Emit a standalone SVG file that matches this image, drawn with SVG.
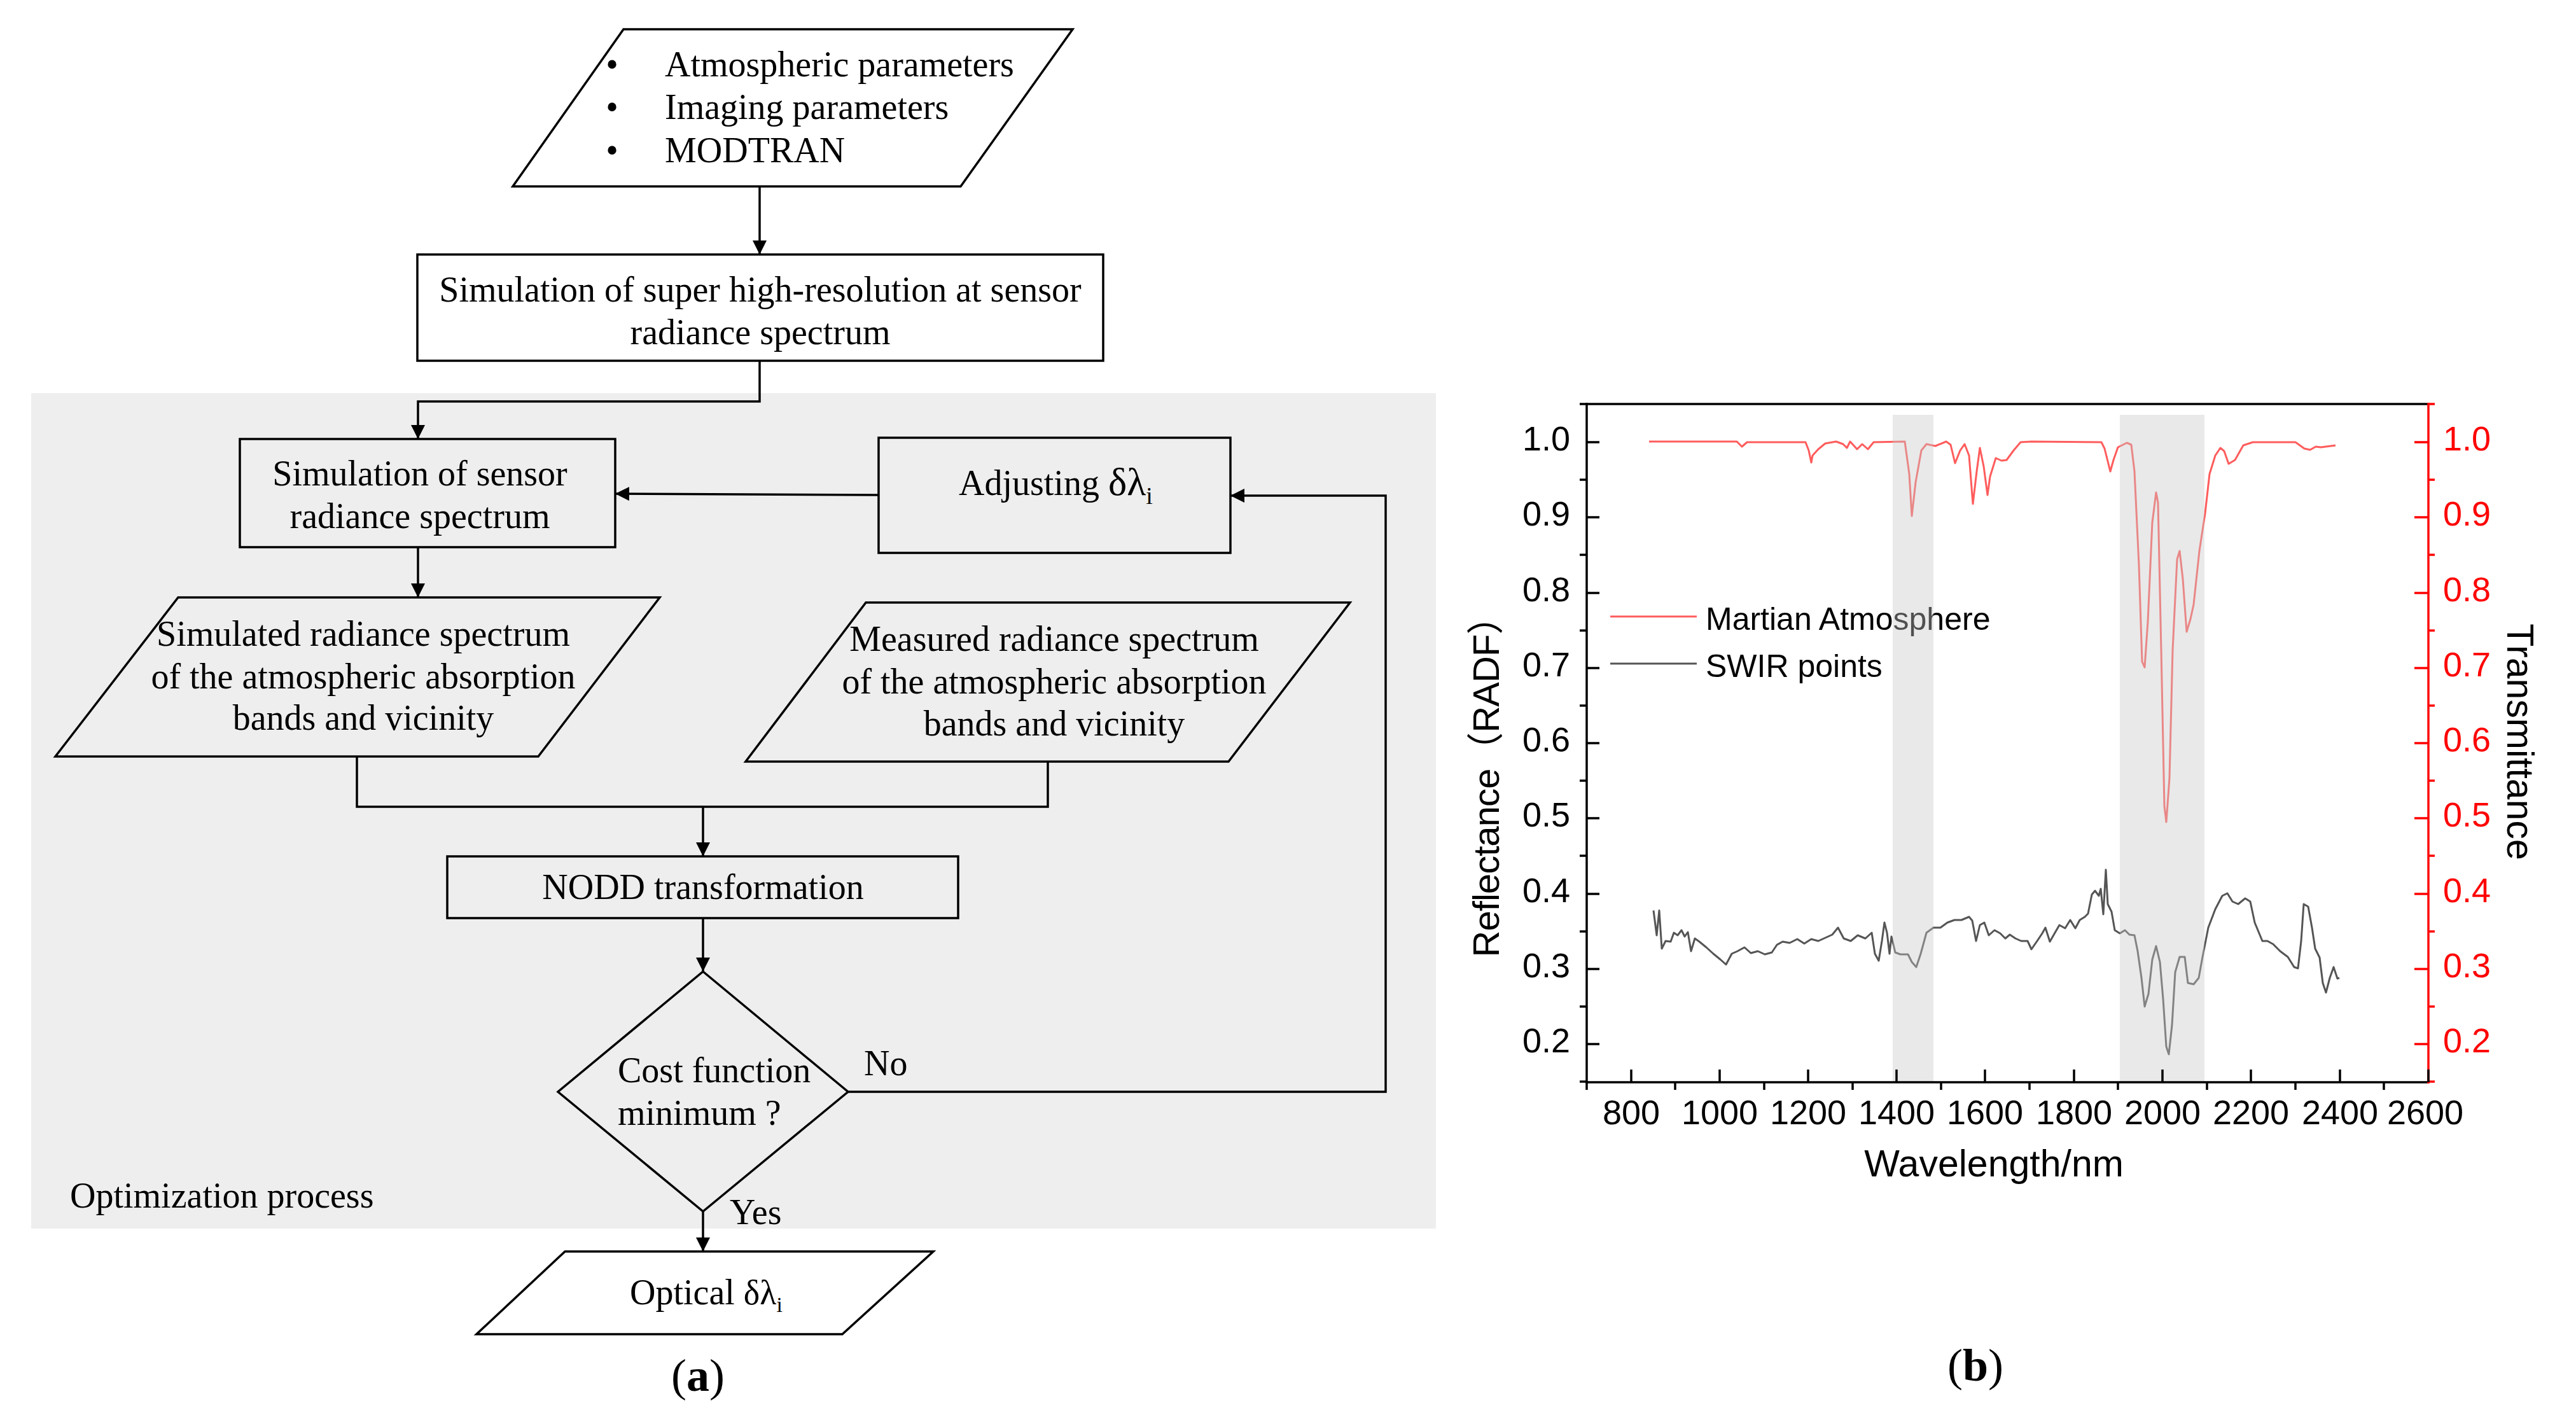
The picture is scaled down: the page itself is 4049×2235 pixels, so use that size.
<svg xmlns="http://www.w3.org/2000/svg" width="4049" height="2235" viewBox="0 0 4049 2235">
<style>
.fc{font-family:"Liberation Serif","Times New Roman",serif;font-size:56px;fill:#000}
.mid{text-anchor:middle}
.shape{fill:none;stroke:#000;stroke-width:3.5;stroke-linejoin:miter}
.con{fill:none;stroke:#000;stroke-width:3.5}
.ax{font-family:"Liberation Sans",Arial,sans-serif;font-size:54px;fill:#000}
.axr{font-family:"Liberation Sans",Arial,sans-serif;font-size:54px;fill:#ff0000}
.tk{stroke:#000;stroke-width:3.5}
.tkr{stroke:#ff0000;stroke-width:3.5}
.lg{font-size:50px}
.big{font-size:72px}
</style>
<defs>
<marker id="arr" markerUnits="userSpaceOnUse" markerWidth="24" markerHeight="24" refX="22" refY="11" orient="auto">
<path d="M0,0 L22,11 L0,22 z" fill="#000"/>
</marker>
</defs>
<rect width="4049" height="2235" fill="#fff"/>

<!-- Optimization process background -->
<g id="optimization-process">
<rect x="49" y="618" width="2208" height="1313" fill="#eeeeee"/>
<text class="fc" x="110" y="1898">Optimization process</text>
</g>

<!-- connectors -->
<g id="connectors">
<line class="con" x1="1194" y1="293" x2="1194" y2="400" marker-end="url(#arr)"/>
<polyline class="con" points="1194,567 1194,631 657,631 657,690" marker-end="url(#arr)"/>
<line class="con" x1="1381" y1="778" x2="967" y2="776" marker-end="url(#arr)"/>
<line class="con" x1="657" y1="860" x2="657" y2="939" marker-end="url(#arr)"/>
<polyline class="con" points="561,1189 561,1268 1647,1268 1647,1197"/>
<line class="con" x1="1105" y1="1268" x2="1105" y2="1346" marker-end="url(#arr)"/>
<line class="con" x1="1105" y1="1443" x2="1105" y2="1527" marker-end="url(#arr)"/>
<polyline class="con" points="1333,1716 2178,1716 2178,779 1934,779" marker-end="url(#arr)"/>
<line class="con" x1="1105" y1="1904" x2="1105" y2="1967" marker-end="url(#arr)"/>
<text class="fc" x="1358" y="1690">No</text>
<text class="fc" x="1147" y="1924">Yes</text>
</g>

<g id="inputs">
<polygon class="shape" points="980,46 1686,46 1510,293 806,293"/>
<text class="fc mid" x="962" y="120">•</text>
<text class="fc mid" x="962" y="187">•</text>
<text class="fc mid" x="962" y="255">•</text>
<text class="fc" x="1045" y="120">Atmospheric parameters</text>
<text class="fc" x="1045" y="187">Imaging parameters</text>
<text class="fc" x="1045" y="255">MODTRAN</text>
</g>

<g id="super-high-res">
<rect class="shape" x="656" y="400" width="1078" height="167"/>
<text class="fc mid" x="1195" y="474">Simulation of super high-resolution at sensor</text>
<text class="fc mid" x="1195" y="541">radiance spectrum</text>
</g>

<g id="sensor-sim">
<rect class="shape" x="377" y="690" width="590" height="170"/>
<text class="fc mid" x="660" y="763">Simulation of sensor</text>
<text class="fc mid" x="660" y="830">radiance spectrum</text>
</g>

<g id="adjusting">
<rect class="shape" x="1381" y="688" width="553" height="181"/>
<text class="fc" x="1507" y="778">Adjusting <tspan style="font-size:62px">δλ</tspan><tspan style="font-size:38px" dy="14">i</tspan></text>
</g>

<g id="simulated">
<polygon class="shape" points="280,939 1037,939 846,1189 87,1189"/>
<text class="fc mid" x="571" y="1015">Simulated radiance spectrum</text>
<text class="fc mid" x="571" y="1082">of the atmospheric absorption</text>
<text class="fc mid" x="571" y="1147">bands and vicinity</text>
</g>

<g id="measured">
<polygon class="shape" points="1361,947 2122,947 1931,1197 1172,1197"/>
<text class="fc mid" x="1657" y="1023">Measured radiance spectrum</text>
<text class="fc mid" x="1657" y="1090">of the atmospheric absorption</text>
<text class="fc mid" x="1657" y="1156">bands and vicinity</text>
</g>

<g id="nodd">
<rect class="shape" x="703" y="1346" width="803" height="97"/>
<text class="fc mid" x="1105" y="1413">NODD transformation</text>
</g>

<g id="decision">
<polygon class="shape" points="1105,1527 1333,1716 1105,1904 877,1716"/>
<text class="fc" x="971" y="1701">Cost function</text>
<text class="fc" x="971" y="1768">minimum ?</text>
</g>

<g id="optical">
<polygon class="shape" points="888,1967 1467,1967 1324,2097 749,2097"/>
<text class="fc" x="990" y="2050">Optical <tspan style="font-size:54px">δλ</tspan><tspan style="font-size:34px" dy="12">i</tspan></text>
</g>

<text class="fc mid big" x="1097" y="2186">(<tspan font-weight="bold">a</tspan>)</text>

<!-- Chart (b) -->
<g id="chart">
<polyline fill="none" stroke="#ff5c5c" stroke-width="3" stroke-linejoin="round" points="2592,694 2730,694 2738,702 2746,695 2838,695 2843,708 2847,727 2849,716 2858,706 2869,697 2886,694 2897,698 2903,704 2908,694 2919,706 2927,698 2936,706 2945,695 2994,694 3001,745 3005,811 3011,758 3020,708 3028,698 3042,701 3059,694 3066,699 3073,728 3081,708 3088,698 3095,716 3101,792 3107,741 3112,704 3118,733 3124,778 3128,749 3137,720 3146,724 3154,723 3165,708 3176,695 3193,694 3303,695 3308,705 3317,741 3322,723 3329,703 3343,696 3350,699 3355,741 3362,888 3367,1040 3371,1049 3376,977 3383,821 3389,774 3392,790 3397,1022 3402,1267 3405,1292 3410,1223 3415,1022 3422,879 3426,866 3431,910 3437,993 3443,973 3448,950 3457,866 3466,807 3473,745 3482,716 3490,704 3496,709 3503,729 3513,723 3526,700 3541,695 3608,695 3622,705 3631,707 3640,702 3648,703 3671,700"/>
<polyline fill="none" stroke="#555555" stroke-width="3" stroke-linejoin="round" points="2599,1431 2604,1470 2608,1431 2612,1491 2618,1479 2626,1480 2631,1466 2637,1470 2643,1462 2648,1472 2653,1465 2658,1495 2664,1475 2671,1480 2682,1489 2693,1499 2704,1508 2713,1516 2722,1499 2731,1495 2742,1489 2752,1498 2763,1495 2774,1500 2785,1497 2793,1485 2802,1480 2813,1482 2825,1476 2836,1483 2847,1476 2858,1479 2869,1474 2880,1469 2889,1458 2898,1475 2909,1479 2920,1470 2932,1475 2942,1466 2947,1499 2953,1510 2958,1479 2962,1450 2966,1466 2970,1499 2973,1472 2979,1497 2987,1500 2999,1500 3005,1512 3012,1520 3019,1499 3028,1466 3039,1458 3050,1458 3061,1450 3072,1446 3083,1446 3095,1441 3100,1447 3106,1479 3112,1454 3119,1450 3126,1470 3135,1462 3144,1467 3152,1475 3159,1469 3168,1475 3177,1479 3187,1479 3193,1492 3202,1479 3210,1467 3215,1458 3222,1480 3230,1466 3237,1454 3246,1459 3254,1446 3262,1459 3269,1446 3277,1441 3282,1436 3288,1406 3293,1400 3299,1408 3302,1397 3306,1437 3310,1367 3313,1421 3319,1433 3324,1462 3332,1467 3340,1462 3347,1469 3355,1470 3360,1495 3366,1537 3371,1582 3377,1562 3383,1508 3389,1487 3395,1512 3400,1570 3405,1645 3409,1657 3414,1611 3419,1528 3426,1504 3434,1504 3439,1545 3448,1547 3456,1537 3462,1504 3471,1458 3482,1429 3493,1408 3501,1404 3509,1417 3518,1421 3529,1412 3537,1417 3544,1450 3556,1479 3564,1479 3573,1484 3584,1495 3596,1504 3606,1520 3612,1522 3617,1479 3621,1421 3628,1425 3634,1458 3639,1491 3646,1505 3651,1545 3656,1560 3662,1537 3668,1520 3674,1538 3677,1537"/>
<!-- legend -->
<line x1="2531" y1="969" x2="2667" y2="969" stroke="#ff5c5c" stroke-width="3"/>
<text class="ax lg" x="2681" y="990">Martian Atmosphere</text>
<line x1="2531" y1="1043" x2="2667" y2="1043" stroke="#555555" stroke-width="3"/>
<text class="ax lg" x="2681" y="1064">SWIR points</text>
<!-- shaded bands -->
<rect x="2975" y="652" width="64" height="1048" fill="#c8c8c8" fill-opacity="0.4"/>
<rect x="3332" y="652" width="133" height="1048" fill="#c8c8c8" fill-opacity="0.4"/>
<!-- axes -->
<line class="tk" x1="2492" y1="635" x2="3817" y2="635"/>
<line class="tk" x1="2494" y1="633" x2="2494" y2="1703"/>
<line class="tk" x1="2492" y1="1701" x2="3817" y2="1701"/>
<line class="tkr" x1="3817" y1="633" x2="3817" y2="1703"/>
<path class="tk" d="M2494,695h20M2494,813h20M2494,932h20M2494,1050h20M2494,1168h20M2494,1286h20M2494,1405h20M2494,1523h20M2494,1641h20"/>
<path class="tk" d="M2494,635h-11M2494,754h-11M2494,872h-11M2494,991h-11M2494,1109h-11M2494,1227h-11M2494,1345h-11M2494,1464h-11M2494,1582h-11M2494,1700h-11"/>
<path class="tkr" d="M3817,695h-22M3817,813h-22M3817,932h-22M3817,1050h-22M3817,1168h-22M3817,1286h-22M3817,1405h-22M3817,1523h-22M3817,1641h-22"/>
<path class="tkr" d="M3817,635h10M3817,754h10M3817,872h10M3817,991h10M3817,1109h10M3817,1227h10M3817,1345h10M3817,1464h10M3817,1582h10M3817,1700h10"/>
<path class="tk" d="M2564,1701v-20M2703,1701v-20M2842,1701v-20M2981,1701v-20M3120,1701v-20M3260,1701v-20M3399,1701v-20M3538,1701v-20M3678,1701v-20M3817,1701v-20"/>
<path class="tk" d="M2494,1701v12M2633,1701v12M2773,1701v12M2912,1701v12M3051,1701v12M3190,1701v12M3329,1701v12M3469,1701v12M3608,1701v12M3747,1701v12"/>
<g class="ax" text-anchor="end">
<text x="2468" y="708">1.0</text>
<text x="2468" y="826">0.9</text>
<text x="2468" y="945">0.8</text>
<text x="2468" y="1063">0.7</text>
<text x="2468" y="1181">0.6</text>
<text x="2468" y="1299">0.5</text>
<text x="2468" y="1418">0.4</text>
<text x="2468" y="1536">0.3</text>
<text x="2468" y="1654">0.2</text>
</g>
<g class="axr">
<text x="3840" y="708">1.0</text>
<text x="3840" y="826">0.9</text>
<text x="3840" y="945">0.8</text>
<text x="3840" y="1063">0.7</text>
<text x="3840" y="1181">0.6</text>
<text x="3840" y="1299">0.5</text>
<text x="3840" y="1418">0.4</text>
<text x="3840" y="1536">0.3</text>
<text x="3840" y="1654">0.2</text>
</g>
<g class="ax" text-anchor="middle">
<text x="2564" y="1767">800</text>
<text x="2703" y="1767">1000</text>
<text x="2842" y="1767">1200</text>
<text x="2981" y="1767">1400</text>
<text x="3120" y="1767">1600</text>
<text x="3260" y="1767">1800</text>
<text x="3399" y="1767">2000</text>
<text x="3538" y="1767">2200</text>
<text x="3678" y="1767">2400</text>
<text x="3812" y="1767">2600</text>
</g>
<text class="ax" x="3134" y="1849" text-anchor="middle" style="font-size:59px">Wavelength/nm</text>
<text text-anchor="middle" transform="translate(2356,1222) rotate(-90)" textLength="565" lengthAdjust="spacing" style="font-family:'Liberation Sans','Noto Sans CJK SC',sans-serif;font-size:58px;fill:#000">Reflectance（RADF）</text>
<text class="ax" text-anchor="middle" transform="translate(3941,1166) rotate(90)" style="font-size:59px">Transmittance</text>
</g>

<text class="fc mid big" x="3105" y="2170">(<tspan font-weight="bold">b</tspan>)</text>
</svg>
